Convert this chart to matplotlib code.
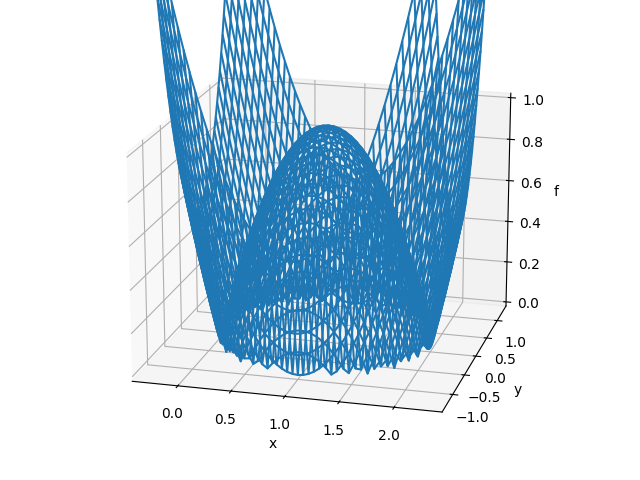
import numpy as np
import matplotlib
matplotlib.use("Agg")
import matplotlib.pyplot as plt

offset_step = 0.05
x_centre = 1.0
# f read per quadrant: row i, columns j >= i (surface is mirror-symmetric)
f_rows = [
    [1, .9975, .99, .9775, .96, .9375, .91, .8775, .84, .7975, .75, .6975, .64, .5775, .51, .4375, .36, .2775, .19, .0975, 0, .1025, .21, .3225, .44, .5625],
    [.995, .9875, .975, .9575, .935, .9075, .875, .8375, .795, .7475, .695, .6375, .575, .5075, .435, .3575, .275, .1875, .095, .0025, .105, .2125, .325, .4425, .565],
    [.98, .9675, .95, .9275, .90, .8675, .83, .7875, .74, .6875, .63, .5675, .50, .4275, .35, .2675, .18, .0875, .01, .1125, .22, .3325, .45, .5725],
    [.955, .9375, .915, .8875, .855, .8175, .775, .7275, .675, .6175, .555, .4875, .415, .3375, .255, .1675, .075, .0225, .125, .2325, .345, .4625, .585],
    [.92, .8975, .87, .8375, .80, .7575, .71, .6575, .60, .5375, .47, .3975, .32, .2375, .15, .0575, .04, .1425, .25, .3625, .48, .6025],
    [.875, .8475, .815, .7775, .735, .6875, .635, .5775, .515, .4475, .375, .2975, .215, .1275, .035, .0625, .165, .2725, .385, .5025, .625],
    [.82, .7875, .75, .7075, .66, .6075, .55, .4875, .42, .3475, .27, .1875, .10, .0075, .09, .1925, .30, .4125, .53, .6525],
    [.755, .7175, .675, .6275, .575, .5175, .455, .3875, .315, .2375, .155, .0675, .025, .1225, .225, .3325, .445, .5625, .685],
    [.68, .6375, .59, .5375, .48, .4175, .35, .2775, .20, .1175, .03, .0625, .16, .2625, .37, .4825, .60, .7225],
    [.595, .5475, .495, .4375, .375, .3075, .235, .1575, .075, .0125, .105, .2025, .305, .4125, .525, .6425, .765],
    [.50, .4475, .39, .3275, .26, .1875, .11, .0275, .06, .1525, .25, .3525, .46, .5725, .69, .8125],
    [.395, .3375, .275, .2075, .135, .0575, .025, .1125, .205, .3025, .405, .5125, .625, .7425, .865],
    [.28, .2175, .15, .0775, 0, .0825, .17, .2625, .36, .4625, .57, .6825, .80, .9225],
    [.155, .0875, .015, .0625, .145, .2325, .325, .4225, .525, .6325, .745, .8625, .985],
    [.02, .0525, .13, .2125, .30, .3925, .49, .5925, .70, .8125, .93, 1.0525],
    [.125, .2025, .285, .3725, .465, .5625, .665, .7725, .885, 1.0025, 1.125],
    [.28, .3625, .45, .5425, .64, .7425, .85, .9625, 1.08, 1.2025],
    [.445, .5325, .625, .7225, .825, .9325, 1.045, 1.1625, 1.285],
    [.62, .7125, .81, .9125, 1.02, 1.1325, 1.25, 1.3725],
    [.805, .9025, 1.005, 1.1125, 1.225, 1.3425, 1.465],
    [1.0, 1.1025, 1.21, 1.3225, 1.44, 1.5625],
    [1.205, 1.3125, 1.425, 1.5425, 1.665],
    [1.42, 1.5325, 1.65, 1.7725],
    [1.645, 1.7625, 1.885],
    [1.88, 2.0025],
    [2.125],
]

n = len(f_rows)
q = np.zeros((n, n))
for i, row in enumerate(f_rows):
    q[i, i:] = row
    q[i:, i] = row
Z = np.block([[q[:0:-1, :0:-1], q[:0:-1, :]], [q[:, :0:-1], q]])
offs = np.arange(-n + 1, n) * offset_step
X, Y = np.meshgrid(x_centre + offs, offs)

fig = plt.figure()
ax = fig.add_axes([0, 0, 1, 1], projection="3d")
ax.plot_wireframe(X, Y, Z, rstride=1, cstride=1)
ax.set_zlim(0, 1, view_margin=1/48)
ax.set_xlabel("x")
ax.set_ylabel("y")
ax.set_zlabel("f")
ax.view_init(elev=18, azim=-75)
fig.savefig("out.png", dpi=100)
